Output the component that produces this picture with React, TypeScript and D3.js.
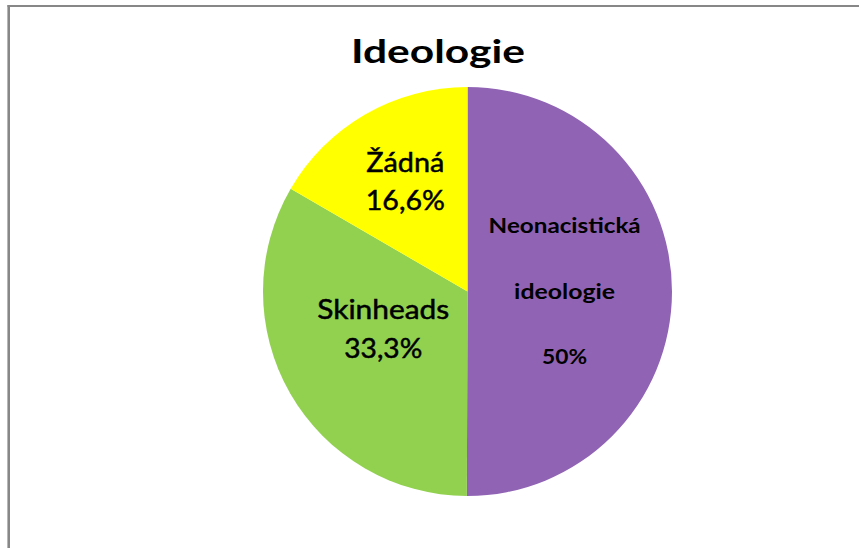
import React from "react";
import * as d3 from "d3";

// chart data
const title = "Ideologie";
const categories = ["Neonacistická ideologie", "Skinheads", "Žádná"];
const shares = [50, 33.3, 16.6];
const shareLabels = ["50%", "33,3%", "16,6%"];
const colors = ["#9063B5", "#92D050", "#FFFF00"];

// label layout per slice (Excel-like placement)
const labelLayout = [
  {
    radius: 0.475,
    size: 21,
    weight: "bold",
    stroke: 0,
    lines: [
      { text: "Neonacistická", dy: -58.5, len: 152 },
      { text: "ideologie", dy: 7.5, len: 101 },
      { text: "50%", dy: 72.5, len: 45 },
    ],
  },
  {
    radius: 0.475,
    size: 27,
    weight: "normal",
    stroke: 0.5,
    lines: [
      { text: "Skinheads", dy: -21, len: 132 },
      { text: "33,3%", dy: 18, len: 78 },
    ],
  },
  {
    radius: 0.61,
    size: 27,
    weight: "normal",
    stroke: 0.5,
    lines: [
      { text: "Žádná", dy: -11.5, len: 78 },
      { text: "16,6%", dy: 27, len: 79 },
    ],
  },
];

const width = 859;
const height = 548;
const cx = 467.5;
const cy = 291.5;
const radius = 204.5;

export default function App() {
  const pie = d3
    .pie<number>()
    .sort(null)
    .value((d) => d);
  const arcs = pie(shares);

  const arc = d3.arc<d3.PieArcDatum<number>>().innerRadius(0).outerRadius(radius);

  return (
    <svg
      width={width}
      height={height}
      viewBox={`0 0 ${width} ${height}`}
      style={{ position: "absolute", left: 0, top: 0, background: "#fff" }}
      fontFamily="Lato, 'Open Sans', sans-serif"
    >
      {/* frame */}
      <line x1={7.5} x2={width} y1={6} y2={6} stroke="#878787" strokeWidth={2} />
      <line x1={8.7} x2={8.7} y1={5} y2={height} stroke="#878787" strokeWidth={2.6} />

      <text
        x={438}
        y={63}
        textAnchor="middle"
        fontSize={33}
        fontWeight="bold"
        fill="#000"
        textLength={174}
        lengthAdjust="spacingAndGlyphs"
      >
        {title}
      </text>

      <g transform={`translate(${cx},${cy})`}>
        {arcs.map((a, i) => (
          <path key={categories[i]} d={arc(a) || ""} fill={colors[i]} />
        ))}
        {arcs.map((a, i) => {
          const lay = labelLayout[i];
          const labelArc = d3
            .arc<d3.PieArcDatum<number>>()
            .innerRadius(radius * lay.radius)
            .outerRadius(radius * lay.radius);
          const [lx, ly] = labelArc.centroid(a);
          return (
            <g key={"lbl-" + categories[i]} data-share={shareLabels[i]}>
              {lay.lines.map((l) => (
                <text
                  key={l.text}
                  x={lx}
                  y={ly + l.dy}
                  textAnchor="middle"
                  fontSize={lay.size}
                  fontWeight={lay.weight}
                  fill="#000"
                  stroke={lay.stroke ? "#000" : "none"}
                  strokeWidth={lay.stroke}
                  textLength={l.len}
                  lengthAdjust="spacingAndGlyphs"
                >
                  {l.text}
                </text>
              ))}
            </g>
          );
        })}
      </g>
    </svg>
  );
}
